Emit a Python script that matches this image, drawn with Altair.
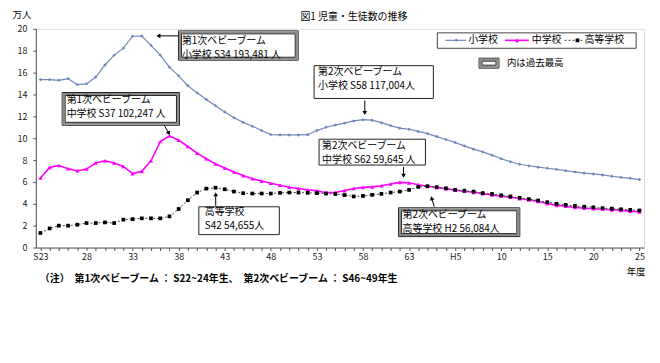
import altair as alt
import pandas as pd

FONT = "Noto Sans CJK JP"

# ---------------- data (万人) ----------------
years = list(range(1948, 2014))  # S23 ... H25

elementary = [15.36, 15.36, 15.30, 15.45, 14.90, 14.97, 15.60, 16.70, 17.60, 18.24,
              19.33, 19.35, 18.50, 17.60, 16.50, 15.70, 14.80, 14.15, 13.55, 12.98,
              12.40, 11.88, 11.45, 11.10, 10.70, 10.33, 10.30, 10.30, 10.30, 10.32,
              10.70, 11.00, 11.20, 11.38, 11.58, 11.70, 11.65, 11.42, 11.15, 10.92,
              10.82, 10.62, 10.42, 10.15, 9.88, 9.60, 9.30, 9.00, 8.75, 8.45,
              8.12, 7.85, 7.62, 7.48, 7.35, 7.25, 7.15, 7.03, 6.92, 6.80,
              6.73, 6.64, 6.52, 6.42, 6.33, 6.22]

junior = [6.36, 7.33, 7.50, 7.21, 7.03, 7.18, 7.73, 7.94, 7.73, 7.42,
          6.76, 6.97, 7.94, 9.70, 10.22, 9.82, 9.24, 8.64, 8.12, 7.64,
          7.27, 6.91, 6.58, 6.30, 6.08, 5.88, 5.70, 5.52, 5.40, 5.28,
          5.18, 5.02, 5.03, 5.21, 5.40, 5.50, 5.55, 5.65, 5.82, 5.96,
          5.92, 5.75, 5.60, 5.50, 5.38, 5.25, 5.15, 5.05, 4.92, 4.82,
          4.70, 4.60, 4.48, 4.35, 4.22, 4.02, 3.86, 3.78, 3.66, 3.60,
          3.55, 3.50, 3.45, 3.40, 3.33, 3.26]

high = [1.33, 1.75, 2.00, 2.00, 2.09, 2.24, 2.24, 2.30, 2.24, 2.55,
        2.60, 2.67, 2.67, 2.67, 2.85, 3.53, 4.33, 5.03, 5.39, 5.47,
        5.33, 5.12, 4.97, 4.94, 4.94, 4.94, 5.00, 5.03, 5.03, 5.00,
        4.97, 4.94, 4.90, 4.80, 4.67, 4.72, 4.82, 4.91, 5.03, 5.12,
        5.27, 5.55, 5.61, 5.52, 5.42, 5.28, 5.20, 5.12, 4.98, 4.90,
        4.78, 4.67, 4.54, 4.43, 4.30, 4.15, 4.00, 3.90, 3.80, 3.73,
        3.68, 3.60, 3.56, 3.50, 3.45, 3.39]

x_tick_years = [1948, 1953, 1958, 1963, 1968, 1973, 1978, 1983, 1988, 1993, 1998, 2003, 2008, 2013]
x_tick_labels = ["S23", "28", "33", "38", "43", "48", "53", "58", "63", "H5", "10", "15", "20", "25"]
y_ticks = list(range(0, 21, 2))

series_names = ["小学校", "中学校", "高等学校"]

# ---------------- scales / axes ----------------
label_expr = "".join(f"datum.value == {y} ? '{l}' : " for y, l in zip(x_tick_years, x_tick_labels)) + "''"

xscale = alt.Scale(domain=[1947.5, 2013.5], nice=False, zero=False)
yscale = alt.Scale(domain=[0, 20], nice=False, zero=True)

x_enc = alt.X("year:Q", scale=xscale,
              axis=alt.Axis(values=years, labelExpr=label_expr, title=None, tickSize=3,
                            labelFontSize=9, labelPadding=2, labelOverlap=False, labelFlush=False,
                            grid=False, domainColor="#555", tickColor="#555", labelColor="#222",
                            labelFont=FONT))
y_enc = alt.Y("value:Q", scale=yscale,
              axis=alt.Axis(values=y_ticks, title=None, tickSize=3, labelFontSize=9, labelPadding=6,
                            grid=False, domainColor="#555", tickColor="#555", labelColor="#222",
                            labelFont=FONT))


def series_layer(vals, color, sw, shape, size, mcolor, dash=None):
    d = pd.DataFrame({"year": years, "value": vals})
    kw = dict(color=color, strokeWidth=sw,
              point=alt.OverlayMarkDef(shape=shape, size=size, filled=True, color=mcolor, opacity=1))
    if dash:
        kw["strokeDash"] = dash
    return alt.Chart(d).mark_line(**kw).encode(x=x_enc, y=y_enc)


ONE = pd.DataFrame({"t": [""]})


def txt(s, x, y, size=10, align="left", weight="normal", baseline="middle"):
    return alt.Chart(pd.DataFrame({"t": [s]})).mark_text(
        align=align, baseline=baseline, fontSize=size, font=FONT, fontWeight=weight, color="#000"
    ).encode(text="t:N", x=alt.value(x), y=alt.value(y))


def rect(x1, y1, x2, y2, stroke, sw, fill=None):
    kw = dict(stroke=stroke, strokeWidth=sw)
    if fill:
        kw["fill"] = fill
        kw["fillOpacity"] = 1
    else:
        kw["fillOpacity"] = 0
    return alt.Chart(ONE).mark_rect(**kw).encode(
        x=alt.value(x1), x2=alt.value(x2), y=alt.value(y1), y2=alt.value(y2))


def rule(x1, y1, x2, y2, color="#000", sw=1, dash=None):
    kw = dict(color=color, strokeWidth=sw)
    if dash:
        kw["strokeDash"] = dash
    return alt.Chart(ONE).mark_rule(**kw).encode(
        x=alt.value(x1), x2=alt.value(x2), y=alt.value(y1), y2=alt.value(y2))


def marker(x, y, shape, size, color, angle=0):
    return alt.Chart(ONE).mark_point(shape=shape, size=size, filled=True, color=color,
                                      opacity=1, angle=angle).encode(x=alt.value(x), y=alt.value(y))


def box(x1, y1, x2, y2, thick):
    if thick:
        return [rect(x1, y1, x2, y2, "#222", 1, fill="white"),
                rect(x1 + 1.5, y1 + 1.5, x2 - 1.5, y2 - 1.5, "#8a8a8a", 2),
                rect(x1 + 3, y1 + 3, x2 - 3, y2 - 3, "#222", 1)]
    return [rect(x1, y1, x2, y2, "#222", 1, fill="white")]


def arrow(tx, ty, hx, hy, angle):
    return [rule(tx, ty, hx, hy, "#000", 1), marker(hx, hy, "triangle", 22, "#000", angle)]


layers = []
layers.append(series_layer(elementary, "#6F88B9", 1.2, "diamond", 12, "#6F88B9"))
layers.append(series_layer(junior, "#FF00FF", 1.6, "triangle-up", 18, "#FF00FF"))
layers.append(series_layer(high, "#444", 1, "square", 14, "#000", dash=[2, 2]))

# ---- annotation boxes (plot-relative pixels) ----
ann = [
    # (box x1,y1,x2,y2, thick, line1, line2, text x, line y1, line y2)
    (143.5, 2, 264, 31.5, True, "第1次ベビーブーム", "小学校 S34 193,481 人", 147, 12, 26),
    (26.5, 64, 144.5, 97, True, "第1次ベビーブーム", "中学校 S37 102,247 人", 31, 71.5, 85.5),
    (280, 37, 400, 70, False, "第2次ベビーブーム", "小学校 S58  117,004人", 284, 43.5, 57.5),
    (285, 111, 392, 137, False, "第2次ベビーブーム", "中学校 S62  59,645 人", 288, 117.5, 131.5),
    (164, 179, 245, 207, False, "高等学校", "S42  54,655人", 170, 184.5, 198.5),
    (365, 180, 487, 209, True, "第2次ベビーブーム", "高等学校 H2  56,084人", 369, 187.5, 201.5),
]
for (x1, y1, x2, y2, thick, l1, l2, tx, ly1, ly2) in ann:
    layers += box(x1, y1, x2, y2, thick)
    layers.append(txt(l1, tx, ly1, size=10))
    layers.append(txt(l2, tx, ly2, size=10))

layers += arrow(143.5, 7, 124, 7, 270)
layers += arrow(129.5, 97.5, 133.5, 104.5, 150)
layers += arrow(331, 72, 331, 84, 180)
layers += arrow(370, 139, 370, 147, 180)
layers += arrow(181, 178, 181, 167, 0)
layers += arrow(401, 179, 398.5, 171, 343)

# ---- legend ----
layers += [rect(404, 4, 604, 19.5, "#444", 1, fill="white")]
ly = 11.5
layers += [rule(412, ly, 433, ly, "#6F88B9", 1.2), marker(423, ly, "diamond", 12, "#6F88B9"),
           txt(series_names[0], 435, ly, size=10)]
layers += [rule(472, ly, 496, ly, "#FF00FF", 1.6), marker(484, ly, "triangle-up", 18, "#FF00FF"),
           txt(series_names[1], 499, ly, size=10)]
layers += [rule(532, ly, 550, ly, "#444", 1, dash=[2, 2]), marker(545, ly, "square", 14, "#000"),
           txt(series_names[2], 552, ly, size=10)]
layers += box(446, 29.5, 466, 39.5, True)
layers.append(txt("内は過去最高", 474, 34.5, size=9.5))

# ---- titles / notes ----
layers.append(txt("図1  児童・生徒数の推移", 320, -12, size=10, align="center"))
layers.append(txt("万人", -14, -13.5, size=9.5, align="center"))
layers.append(txt("年度", 604, 245, size=9.5, align="center"))
layers.append(txt("（注）　第1次ベビーブーム ： S22~24年生、　第2次ベビーブーム ： S46~49年生",
                  4, 252, size=10, weight="bold"))

chart = alt.layer(*layers).properties(
    width=612, height=220,
    padding={"left": 28, "top": 20, "right": 8, "bottom": 90},
    autosize=alt.AutoSizeParams(type="none"),
).configure_view(stroke="#9a9a9a", strokeWidth=1).configure(background="white")

chart.save("out.html", embed_options={"renderer": "svg", "actions": False})
